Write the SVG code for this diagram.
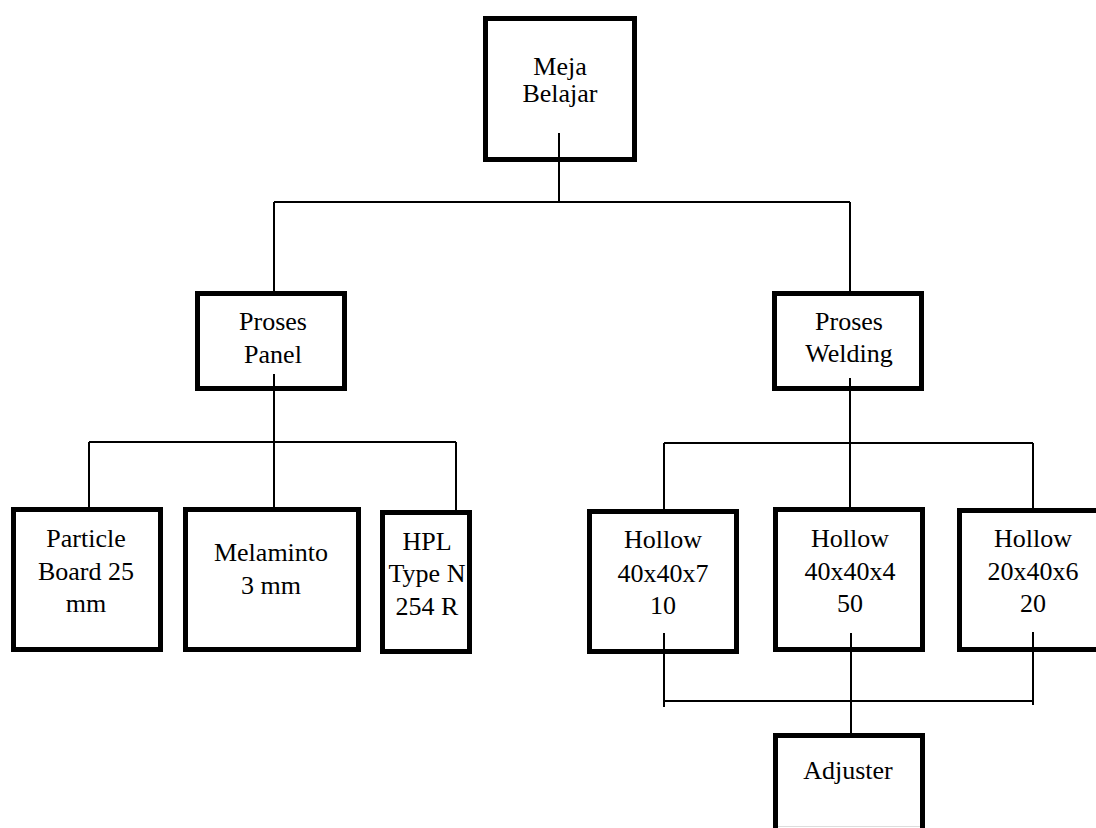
<svg xmlns="http://www.w3.org/2000/svg" width="1096" height="828" viewBox="0 0 1096 828">
<style>
.box{fill:#fff;stroke:#000;stroke-width:5}
.t{font-family:"Liberation Serif","Times New Roman",serif;font-size:26px;fill:#000;text-anchor:middle}
.c{stroke:#000;stroke-width:2;fill:none}
</style>
<rect width="1096" height="828" fill="#fff"/>
<g id="n-meja"><rect class="box" x="485.5" y="18.5" width="149" height="141"/><text class="t" x="560" y="75">Meja</text><text class="t" x="560" y="102">Belajar</text></g>
<g id="n-panel"><rect class="box" x="197.5" y="293.5" width="147" height="95"/><text class="t" x="273" y="330">Proses</text><text class="t" x="273" y="363">Panel</text></g>
<g id="n-welding"><rect class="box" x="774.5" y="293.5" width="147" height="95"/><text class="t" x="849" y="330">Proses</text><text class="t" x="849" y="362">Welding</text></g>
<g id="n-particle"><rect class="box" x="13.5" y="509.5" width="147" height="140"/><text class="t" x="86" y="547">Particle</text><text class="t" x="86" y="580">Board 25</text><text class="t" x="86" y="612">mm</text></g>
<g id="n-melaminto"><rect class="box" x="185.5" y="509.5" width="173" height="140"/><text class="t" x="271" y="561">Melaminto</text><text class="t" x="271" y="594">3 mm</text></g>
<g id="n-hpl"><rect class="box" x="382.5" y="512.5" width="87" height="139"/><text class="t" x="427" y="550">HPL</text><text class="t" x="427" y="582">Type N</text><text class="t" x="427" y="615">254 R</text></g>
<g id="n-hollow1"><rect class="box" x="589.5" y="511.5" width="147" height="140"/><text class="t" x="663" y="548">Hollow</text><text class="t" x="663" y="582">40x40x7</text><text class="t" x="663" y="614">10</text></g>
<g id="n-hollow2"><rect class="box" x="775.5" y="509.5" width="147" height="140"/><text class="t" x="850" y="547">Hollow</text><text class="t" x="850" y="580">40x40x4</text><text class="t" x="850" y="612">50</text></g>
<g id="n-hollow3"><rect class="box" x="959.5" y="510.5" width="160" height="139"/><text class="t" x="1033" y="547">Hollow</text><text class="t" x="1033" y="580">20x40x6</text><text class="t" x="1033" y="612">20</text></g>
<g id="n-adjuster"><rect class="box" x="775.5" y="735.5" width="147" height="100"/><line x1="778" y1="826.5" x2="920" y2="826.5" stroke="#ddd" stroke-width="1"/><text class="t" x="848" y="779">Adjuster</text></g>
<g id="connectors">
<path class="c" d="M559 133V202M274 202H850M274 202V292M850 202V292"/>
<path class="c" d="M274 374V509M89 442H456M89 442V509M456 442V512"/>
<path class="c" d="M850 378V509M664 443H1033M664 443V511M1033 443V510"/>
<path class="c" d="M664 633V707M1033 632V705M851 633V735M663 701H1033"/>
</g>
</svg>
